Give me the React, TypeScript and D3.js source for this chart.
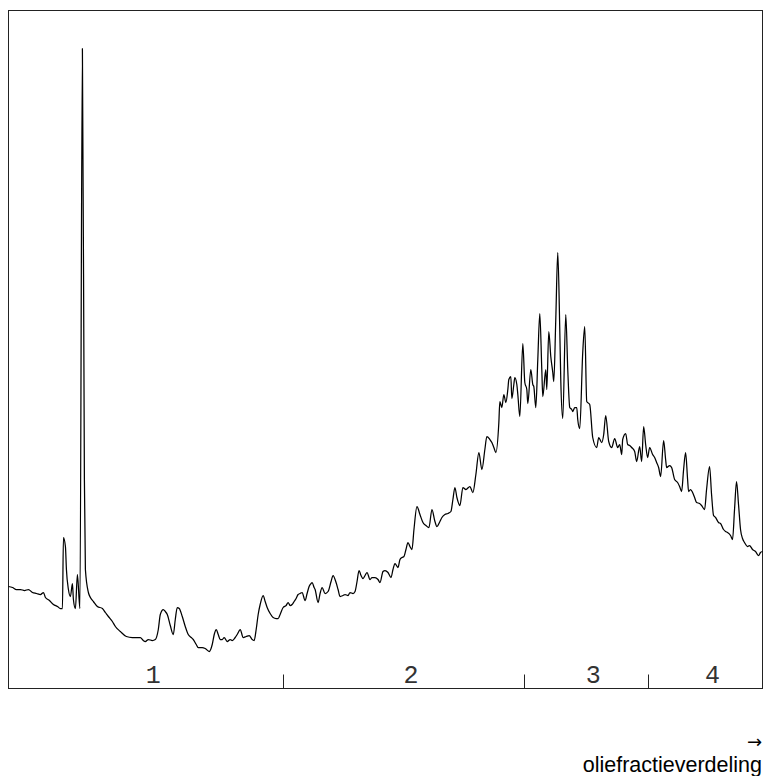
import React from "react";
import * as d3 from "d3";

// Gas-chromatogram trace of an oil sample: retention (arbitrary units) vs detector response.
const retention = [
  0, 4, 8, 12, 16, 20, 24, 28, 32, 35, 37, 41, 45, 49, 52, 54, 55, 57, 58, 60, 62, 64, 65, 67, 69, 71.5, 74, 76, 77,
  80, 82, 85, 89, 94, 97, 100, 104, 107, 112, 118, 124, 128, 132, 135, 137, 140, 144, 147, 150, 152, 155, 157, 159,
  162, 165, 167, 169, 171, 174, 177, 180, 183, 185, 188, 190, 194, 197, 201, 204, 206, 208, 210, 212, 214, 216, 219,
  222, 224, 227, 229, 232, 235, 238, 241, 244, 246, 248, 250, 252, 255, 257, 259, 262, 265, 268, 270, 272, 275, 278,
  280, 282, 284, 286, 288, 290, 292, 294, 297, 299, 301, 303, 304, 306, 307, 310, 312, 314, 317, 320, 323, 325, 328,
  330, 332, 335, 337, 340, 342, 345, 347, 349, 351, 353, 355, 357, 359, 362, 364, 367, 370, 372, 375, 377, 380, 383,
  385, 387, 390, 392, 394, 396, 398, 400, 402, 404, 406, 409, 412, 415, 418, 421, 424, 427, 429, 432, 434, 437, 440,
  443, 445, 447, 449, 452, 455, 458, 462, 465, 468, 471, 474, 477, 479, 482, 484, 486, 488, 491, 492, 494, 496, 498,
  500, 501, 503, 504, 506, 507, 509, 510, 512, 515, 517, 519, 520, 523, 525, 526, 528, 530, 532, 534, 535, 538, 539,
  541, 543, 545, 546, 548, 550, 552, 553, 555, 558, 560, 562, 564, 565, 567, 569, 570, 572, 575, 577, 579, 582, 585,
  589, 591, 594, 596, 598, 601, 604, 607, 610, 612, 614, 615, 618, 620, 622, 624, 627, 629, 632, 634, 636, 638, 640,
  642, 645, 647, 649, 651, 653, 656, 658, 659, 662, 664, 667, 670, 672, 674, 676, 678, 680, 681, 683, 685, 687, 689,
  692, 694, 697, 699, 702, 704, 706, 708, 711, 713, 716, 718, 720, 723, 725, 727, 729, 731, 733, 735, 737, 740, 742,
  745, 748, 751, 753, 755,
];

const response = [
  102, 101, 99, 99, 98, 99, 96, 95, 94, 96, 91, 88, 84, 82, 80, 80, 151, 142, 119, 99, 92, 105, 89, 80, 114, 80, 640,
  209, 119, 96, 91, 87, 82, 80, 76, 72, 67, 62, 57, 52, 51, 51, 51, 48, 47, 49, 48, 49, 59, 74, 79, 77, 74, 63, 54,
  69, 81, 80, 72, 62, 54, 51, 49, 44, 41, 41, 40, 37, 44, 54, 59, 54, 49, 49, 51, 47, 49, 48, 51, 54, 59, 51, 52, 53,
  49, 48, 59, 74, 84, 93, 87, 81, 75, 71, 70, 70, 74, 81, 83, 86, 83, 84, 87, 90, 94, 95, 96, 88, 95, 102, 105, 106,
  101, 99, 86, 95, 101, 95, 97, 107, 113, 106, 99, 92, 93, 94, 93, 96, 95, 97, 107, 118, 113, 110, 113, 116, 109, 111,
  111, 109, 106, 117, 118, 116, 111, 119, 125, 121, 129, 131, 132, 139, 146, 142, 139, 159, 182, 174, 166, 163, 161,
  179, 167, 162, 167, 171, 174, 175, 177, 189, 201, 191, 183, 201, 199, 202, 196, 214, 236, 219, 239, 252, 249, 246,
  241, 236, 266, 287, 281, 294, 286, 299, 309, 312, 290, 304, 311, 304, 294, 272, 345, 306, 299, 285, 319, 304, 302,
  281, 329, 375, 319, 292, 319, 299, 357, 332, 316, 307, 369, 436, 359, 309, 270, 374, 319, 281, 279, 277, 281, 281,
  269, 260, 336, 362, 287, 284, 251, 241, 251, 246, 254, 273, 247, 241, 250, 241, 244, 234, 249, 255, 244, 243, 241,
  237, 227, 242, 227, 262, 244, 231, 241, 234, 231, 226, 221, 212, 248, 229, 221, 223, 221, 209, 206, 202, 197, 219,
  236, 209, 197, 199, 196, 191, 186, 185, 183, 179, 199, 222, 194, 173, 171, 166, 165, 159, 157, 156, 153, 149, 179,
  207, 184, 159, 150, 146, 142, 143, 139, 137, 133, 136, 137,
];

// Boundaries of the four oil fractions along the retention axis, and their labels.
const fractionBounds = [0, 275, 516, 640, 755];
const fractionLabels = ["1", "2", "3", "4"];
const axisTitle = "oliefractieverdeling";

const WIDTH = 764;
const HEIGHT = 776;
const plot = { left: 8.5, top: 10.5, right: 762.5, bottom: 688.5 };

export default function App() {
  const x = d3.scaleLinear().domain([0, 755]).range([plot.left, plot.right]);
  const y = d3.scaleLinear().domain([0, 678]).range([plot.bottom, plot.top]);

  const points: [number, number][] = retention.map((r, i) => [r, response[i]]);
  const line = d3
    .line<[number, number]>()
    .x((d) => x(d[0]))
    .y((d) => y(d[1]))
    .curve(d3.curveMonotoneX);

  const innerTicks = fractionBounds.slice(1, -1);

  return (
    <svg
      width={WIDTH}
      height={HEIGHT}
      style={{ position: "absolute", left: 0, top: 0, background: "#fff" }}
    >
      <rect
        x={plot.left}
        y={plot.top}
        width={plot.right - plot.left}
        height={plot.bottom - plot.top}
        fill="none"
        stroke="#222"
        strokeWidth={1}
      />
      <path
        d={line(points) ?? ""}
        fill="none"
        stroke="#000"
        strokeWidth={1.25}
        strokeLinejoin="round"
      />
      {innerTicks.map((t) => (
        <line
          key={t}
          x1={Math.round(x(t)) + 0.5}
          x2={Math.round(x(t)) + 0.5}
          y1={plot.bottom - 14}
          y2={plot.bottom}
          stroke="#222"
          strokeWidth={1}
        />
      ))}
      {fractionLabels.map((lab, i) => (
        <text
          key={lab}
          x={x((fractionBounds[i] + fractionBounds[i + 1]) / 2)}
          y={683}
          fontFamily="'Liberation Mono', 'Courier New', monospace"
          fontSize={25}
          fill="#333"
          textAnchor="start"
        >
          {lab}
        </text>
      ))}
      <text
        x={762}
        y={748}
        fontFamily="'DejaVu Sans', sans-serif"
        fontSize={18}
        textAnchor="end"
        fill="#000"
      >
        →
      </text>
      <text
        x={762}
        y={772}
        fontFamily="'Liberation Sans', Arial, sans-serif"
        fontSize={21.5}
        textAnchor="end"
        fill="#000"
      >
        {axisTitle}
      </text>
    </svg>
  );
}
